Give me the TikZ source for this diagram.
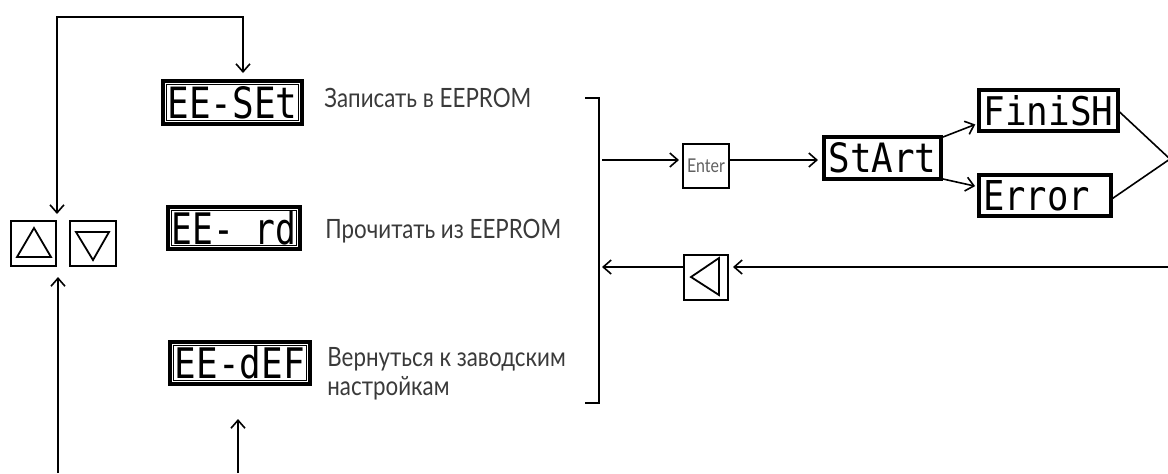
\documentclass[tikz,border=0pt]{standalone}
\usepackage{fontspec}
\usepackage{graphicx}
\setmainfont{Lato}[FakeStretch=0.84]
\newfontfamily\segfont{DejaVu Sans Mono}
\usetikzlibrary{arrows.meta}
\definecolor{labgray}{HTML}{3A3A3A}
\definecolor{entergray}{HTML}{606060}
\newcommand{\segtxt}[3]{\resizebox{#1}{#2}{\segfont #3}}
\begin{document}
\begin{tikzpicture}[x=0.5pt,y=-0.5pt,
  conn/.style={line width=0.8pt},
  arr/.style={conn,-{Straight Barb[length=4pt,width=7pt,line width=0.8pt]}},
  darr/.style={conn,{Straight Barb[length=4pt,width=7pt,line width=0.8pt]}-{Straight Barb[length=4pt,width=7pt,line width=0.8pt]}},
  disp/.style={draw, line width=2pt, inner sep=0pt, outer sep=0pt, anchor=north west},
  btn/.style={draw, line width=0.9pt, inner sep=0pt, outer sep=0pt, anchor=north west, minimum width=22.5pt, minimum height=22.5pt},
  lab/.style={inner sep=0pt, text=labgray, font=\fontsize{13.3}{14.5}\selectfont},
]
\useasboundingbox (0,0) rectangle (1168,473);

% displays
\node[disp, minimum width=69.5pt, minimum height=21.5pt] (set) at (163,81) {\segtxt{65pt}{16pt}{EE-SEt}};
\node[disp, minimum width=66pt, minimum height=21pt] (rd) at (168,207) {\segtxt{62.5pt}{16.5pt}{EE- rd}};
\node[disp, minimum width=70pt, minimum height=21pt] (def) at (170,342) {\segtxt{65pt}{16pt}{EE-dEF}};
\node[disp, minimum width=58.5pt, minimum height=21pt] (start) at (824,137) {\segtxt{54pt}{15pt}{StArt}};
\node[disp, minimum width=69.5pt, minimum height=20.5pt] (finish) at (979,90) {\segtxt{65pt}{15pt}{FiniSH}};
\node[disp, minimum width=66pt, minimum height=20.5pt] (error) at (979,175) {\makebox[62pt][l]{\segtxt{53.5pt}{15pt}{Error}}};
\foreach \n in {set,rd,def}
  \draw[line width=0.45pt] ([shift={(1.6pt,-1.6pt)}]\n.north west) rectangle ([shift={(-1.6pt,1.6pt)}]\n.south east);

% labels
\node[lab, anchor=base west] (t1) at (324,107) {Записать в EEPROM};
\node[lab, anchor=base west] (t2) at (325,238) {Прочитать из EEPROM};
\node[lab, anchor=north west, align=left] (t3) at (327,347) {Вернуться к заводским\\настройкам};

% buttons
\node[btn] (up) at (11,221) {};
\node[btn, minimum width=23pt] (down) at (70,221) {};
\node[btn, minimum width=22pt] (back) at (684,255) {};
\node[btn, minimum width=23pt, minimum height=22pt, text=entergray, font=\fontsize{9.5}{10}\selectfont] (enter) at (683,144) {Enter};
\draw[line width=0.9pt] (17,257) -- (51,257) -- (34,228) -- cycle;
\draw[line width=0.9pt] (76,232) -- (109,232) -- (93,260) -- cycle;
\draw[line width=0.9pt] (719,258) -- (719,295) -- (691,277) -- cycle;

% bracket
\coordinate (brT) at (599,98);
\coordinate (brB) at (599,403);
\draw[line width=0.9pt] (585,98) -- (brT) -- (brB) -- (585,403);

% loop at top
\coordinate (loopA) at (57,17);
\coordinate (loopB) at (243,17);
\draw[darr, shorten <=3.5pt, shorten >=4pt] ([xshift=0.5pt]up.north east) -- (loopA) -- (loopB) -- (loopB |- set.north);

% bottom arrows
\coordinate (bl) at (58,473);
\coordinate (bm) at (238,473);
\draw[arr, shorten >=5.5pt] (bl) -- (bl |- up.south);
\draw[arr, shorten >=17.5pt] (bm) -- (bm |- def.south);

% forward chain
\coordinate (eny) at (0,160);
\draw[arr, shorten <=1.5pt, shorten >=2pt] (brT |- eny) -- (enter.west |- eny);
\draw[arr, shorten >=3pt] (enter.east |- eny) -- (start.west |- eny);
\draw[arr, shorten >=2pt] ([xshift=1pt]start.north east) -- ([yshift=4pt]finish.south west);
\draw[arr, shorten >=2pt] ([xshift=1pt]start.south east) -- ([yshift=-6pt]error.north west);
\coordinate (rc) at (1170,159);
\draw[conn] (finish.east) -- (rc);
\draw[conn] ([yshift=-2pt]error.east) -- (rc);

% return
\coordinate (rr) at (1168,267);
\draw[arr, shorten >=2.5pt] (rr) -- (rr -| back.east);
\draw[arr, shorten >=1.5pt] (rr -| back.west) -- (rr -| brT);
\end{tikzpicture}
\end{document}
